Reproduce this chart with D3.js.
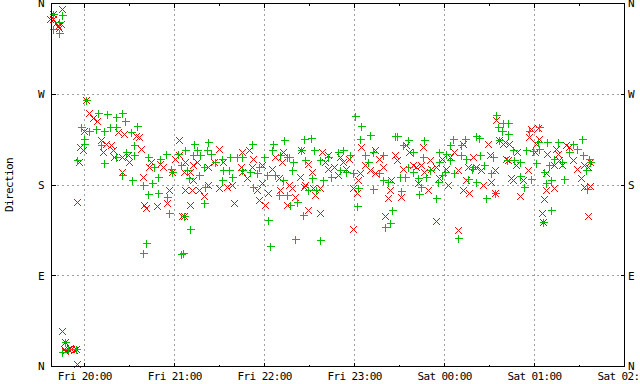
<!DOCTYPE html>
<html lang="en">
<head>
<meta charset="UTF-8">
<title>Direction</title>
<script src="https://cdn.jsdelivr.net/npm/d3@7"></script>
<style>
  body { margin: 0; background: #fff; }
  svg text { font-family: "DejaVu Sans Mono", monospace; font-size: 11px; letter-spacing: -0.6px; fill: #000; }
  .grid { stroke: #a0a0a0; stroke-width: 1; stroke-dasharray: 2,3; shape-rendering: crispEdges; }
  .tick { stroke: #000; stroke-width: 1; shape-rendering: crispEdges; }
</style>
</head>
<body>
<div id="chart"></div>
<script>
// time = minutes after Fri 20:00, value = wind direction in degrees
const start = new Date(2021, 0, 1, 20, 0)   // a Friday
const dirNames = ['N', 'E', 'S', 'W', 'N']
const dirTicks = [0, 90, 180, 270, 360]

// red x : mean direction
const windDir = [
  [-15,355],[-21,350],[-21,345],[-19.5,341],[-17.5,336],[-18,338],[-23,345],[-16,340],
  [-15,35],[-13.5,24],[-14,17],[-13,15],[-11.5,17],[-10,18],[-9,17],[-7.5,16],[-6,17],[-5.5,2],
  [-5,163],[-4,203],[-3,218],[-1.5,215],[-0.5,234],[1,264],[3,251],[5.5,246],[8,243],[10.5,225],[14,221],[12,213],
  [17.5,220],[18.5,215],[22,233],[26,231],[19.5,208],[25,208],[29.5,203],[28.5,210],[34,229],[36,228],[37.5,216],
  [25,193],[38.5,188],[44,203],[43,198],[50.5,201],[52,198],[58.5,193],[60.5,206],[63,210],[63,225],[56,175],
  [55,162],[39.5,160],[40.5,157],[48.5,159],[65,149],
  [67,203],[66,193],[72.5,200],[75,203],[70.5,193],[72.5,185],[67,175],[71.5,175],[76,175],[79.5,169],[70.5,160],
  [66,149],[82.5,198],[86,203],[89.5,216],[92.5,203],[82.5,180],[89.5,177],[95,178],[98.5,180],[99.5,162],
  [105,213],[109.5,215],[105,193],[104,198],[108.5,187],[112.5,206],[111.5,198],[118.5,200],[118.5,182],[115,175],
  [116,165],[120.5,160],[122.5,172],[127,208],[125,196],[129.5,187],[130.5,175],[131.5,203],[135,160],[136,180],[132.5,213],
  [138,177],[140,168],[143.5,188],[146,178],[147,180],[149,201],[151.5,193],[144.5,215],[152.5,177],[153.5,170],
  [157,177],[158,213],[160,203],[162.5,196],[166,198],[169,190],[170,208],[172.5,203],[176,206],[174.5,196],
  [149,155],[157,152],[179,177],[181.5,172],[179,136],[184.5,218],[183.5,192],[182.5,185],[187,200],[190.5,195],
  [193.5,215],[196,206],[199,198],[193.5,192],[203.5,175],[202.5,167],[200,149],[207,210],[208,205],[204.5,185],[162.5,210],
  [211,168],[214.5,220],[216.5,213],[212,196],[219,200],[221,198],[224.5,200],[222,182],[225.5,218],[229,175],
  [226.5,193],[230,205],[231,196],[234.5,198],[238,206],[236.5,187],[241,196],[242.5,180],[243.5,208],[246.5,213],
  [249,195],[252.5,221],[254.5,185],[252.5,175],[256.5,172],[255.5,198],[259,208],[261,198],[264.5,195],[265.5,180],
  [270,210],[271,183],[273.5,195],[273.5,172],[269,221],[274.5,244],[276.5,225],[279,221],[234.5,144],[249,135],[281,206],
  [280,223],[283,221],[282,205],[288.5,213],[287.5,200],[284,187],[285.5,185],[292,185],[295.5,195],[297.5,236],
  [302,237],[296.5,228],[301,221],[300,213],[303,226],[308.5,211],[314.5,216],[315.5,211],[316.5,205],[313,200],
  [318.5,200],[321,220],[323,218],[325.5,205],[328.5,196],[333,200],[331,187],[335.5,198],[333,178],[337,179],
  [307.5,192],[307.5,175],[313,177],[306.5,166],[290.5,169],[305,152],[305.5,143],[335.5,149],[337,203]
]

// green + : gust direction
const gustDir = [
  [-21,350],[-15,349],[-17.5,342],[-21.5,335],[-17,331],
  [-13.5,24],[-15,14],[-11.5,17],[-6,17],
  [1,264],[8.5,251],[15,250],[20.5,247],[24.5,251],[27,243],[-2.5,238],[2.5,234],[7.5,236],[13,234],[16.5,238],
  [20.5,238],[-0.5,226],[-0.5,221],[10.5,220],[30.5,233],[35,239],[33,220],[27.5,213],[33,210],[20.5,208],[13,202],
  [-5,205],[42,208],[46.5,198],[50.5,206],[54,211],[57.5,196],[62,211],[58.5,193],[25,190],[31.5,185],[38.5,180],
  [45,182],[49,188],[42.5,171],[49,172],[55,168],[56.5,152],[40.5,122],[39,113],[64,112],
  [73,221],[82.5,223],[67,215],[75,215],[81.5,215],[84,211],[72.5,210],[77,210],[64,200],[68.5,195],[69.5,187],
  [76,190],[79.5,198],[87,203],[91.5,206],[97,208],[101.5,208],[105,208],[111.5,221],[92.5,195],[96,195],[98.5,188],
  [105,195],[110.5,193],[115,192],[116,198],[119.5,208],[121.5,190],[125,215],[125.5,221],[130.5,210],[133,225],
  [135,208],[127,190],[132.5,185],[91.5,185],[80.5,178],[112.5,178],[79.5,162],[129.5,170],[135,170],[122.5,145],
  [70.5,136],[66,149],[123.5,120],[65.5,113],
  [180.5,248],[184.5,239],[190.5,230],[207,229],[146.5,226],[151,227],[144.5,215],[153,215],[139,203],[147,205],
  [157,205],[136,208],[162.5,208],[169,213],[172.5,215],[177,210],[183.5,226],[187,210],[192.5,213],[199,210],
  [138,195],[151.5,187],[159,185],[164.5,188],[170,195],[174.5,193],[179,192],[189,203],[196,192],[199,185],
  [202.5,183],[149,175],[154.5,175],[182.5,177],[192.5,176],[141.5,163],[137,160],[145.5,150],[181.5,159],[205,155],
  [203.5,142],[200.5,138],[140.5,126],[157,125],
  [274.5,249],[275.5,238],[279,241],[278.5,234],[276.5,225],[261,229],[263,227],[253.5,226],[251,220],[245.5,226],
  [243.5,220],[226.5,225],[215.5,225],[212,220],[208,229],[219,213],[225.5,208],[236.5,213],[241,211],[251,210],
  [243.5,205],[254.5,206],[263.5,210],[266.5,200],[272,208],[259,198],[258,196],[215.5,198],[219,193],[230,195],
  [236.5,203],[240,193],[246.5,192],[271,192],[210,188],[213.5,188],[222,187],[227.5,188],[238.5,190],[235.5,183],
  [261,183],[255.5,186],[224.5,178],[211,174],[223,171],[234.5,167],[267.5,167],[273.5,172],[249,127],
  [282.5,241],[282,231],[296,234],[303,238],[302,223],[308.5,223],[315.5,223],[331.5,226],[285.5,215],[294.5,215],
  [299,214],[303,216],[325.5,221],[328.5,216],[323,213],[332,210],[281.5,205],[290,203],[286.5,205],[301,202],
  [313,206],[318.5,203],[309.5,200],[336.5,206],[337,203],[334.5,195],[306.5,193],[290,189],[297.5,186],[311,185],
  [319.5,186],[307.5,182],[293,178],[335,176],[311,155],[305.5,143]
]

const width = 640, height = 384
const plotL = 51.5, plotR = 624.5, plotT = 3.5, plotB = 366.5

const t = m => new Date(start.getTime() + m * 60000)

const x = d3.scaleTime().domain([t(-22.2), t(360)]).range([plotL, plotR])
const y = d3.scaleLinear().domain([0, 360]).range([plotB, plotT])

const svg = d3.select('#chart').append('svg').attr('width', width).attr('height', height)

// grid
const hours = d3.timeHour.range(t(0), t(361))
const halfHours = d3.timeMinute.every(30).range(t(-22.2), t(361)).filter(d => d.getMinutes() === 30)

svg.append('g').selectAll('line').data(hours.filter(d => x(d) < plotR - 1)).join('line')
  .attr('class', 'grid')
  .attr('x1', d => Math.floor(x(d)) + 0.5).attr('x2', d => Math.floor(x(d)) + 0.5)
  .attr('y1', plotT).attr('y2', plotB)
svg.append('g').selectAll('line').data(dirTicks.slice(1, 4)).join('line')
  .attr('class', 'grid')
  .attr('x1', plotL).attr('x2', plotR)
  .attr('y1', d => Math.round(y(d) - 0.5) + 0.5).attr('y2', d => Math.round(y(d) - 0.5) + 0.5)

// ticks
const tk = svg.append('g')
hours.forEach(d => {
  const xx = Math.floor(x(d)) + 0.5
  tk.append('line').attr('class', 'tick').attr('x1', xx).attr('x2', xx).attr('y1', plotB).attr('y2', plotB - 4)
  tk.append('line').attr('class', 'tick').attr('x1', xx).attr('x2', xx).attr('y1', plotT).attr('y2', plotT + 4)
})
halfHours.forEach(d => {
  const xx = Math.floor(x(d)) + 0.5
  tk.append('line').attr('class', 'tick').attr('x1', xx).attr('x2', xx).attr('y1', plotB).attr('y2', plotB - 2)
  tk.append('line').attr('class', 'tick').attr('x1', xx).attr('x2', xx).attr('y1', plotT).attr('y2', plotT + 2)
})
dirTicks.forEach(d => {
  const yy = Math.round(y(d) - 0.5) + 0.5
  tk.append('line').attr('class', 'tick').attr('x1', plotL).attr('x2', plotL + 4).attr('y1', yy).attr('y2', yy)
  tk.append('line').attr('class', 'tick').attr('x1', plotR - 4).attr('x2', plotR).attr('y1', yy).attr('y2', yy)
})

// points: red x first, green + on top
const s = 3.5
const cross = d => {
  const cx = Math.round(x(t(d[0]))) + 0.5, cy = Math.round(y(d[1])) + 0.5
  return `M${cx - s},${cy - s}L${cx + s},${cy + s}M${cx - s},${cy + s}L${cx + s},${cy - s}`
}
const plus = d => {
  const cx = Math.round(x(t(d[0]))) + 0.5, cy = Math.round(y(d[1])) + 0.5
  return `M${cx - s - 0.5},${cy}L${cx + s + 0.5},${cy}M${cx},${cy - s - 0.5}L${cx},${cy + s + 0.5}`
}
svg.append('g').selectAll('path').data(windDir).join('path')
  .attr('d', cross).attr('fill', 'none').attr('stroke', '#ff0000').attr('stroke-width', 1)
  .attr('shape-rendering', 'crispEdges')
svg.append('g').selectAll('path').data(gustDir).join('path')
  .attr('d', plus).attr('fill', 'none').attr('stroke', '#00c000').attr('stroke-width', 1)
  .attr('shape-rendering', 'crispEdges')

// border
svg.append('rect').attr('x', plotL).attr('y', plotT).attr('width', plotR - plotL).attr('height', plotB - plotT)
  .attr('fill', 'none').attr('stroke', '#000').attr('shape-rendering', 'crispEdges')

// labels
const fmt = d3.timeFormat('%a %H:%M')
svg.append('g').selectAll('text').data(hours).join('text')
  .attr('x', d => x(d)).attr('y', 380).attr('text-anchor', 'middle').text(d => fmt(d))
svg.append('g').selectAll('text').data(dirTicks).join('text')
  .attr('x', 44).attr('y', d => y(d)).attr('dy', '0.35em').attr('text-anchor', 'end').text((d, i) => dirNames[i])
svg.append('g').selectAll('text').data(dirTicks).join('text')
  .attr('x', 628).attr('y', d => y(d)).attr('dy', '0.35em').attr('text-anchor', 'start').text((d, i) => dirNames[i])
svg.append('text').attr('transform', 'translate(13,185) rotate(-90)').attr('text-anchor', 'middle').text('Direction')
</script>
</body>
</html>
